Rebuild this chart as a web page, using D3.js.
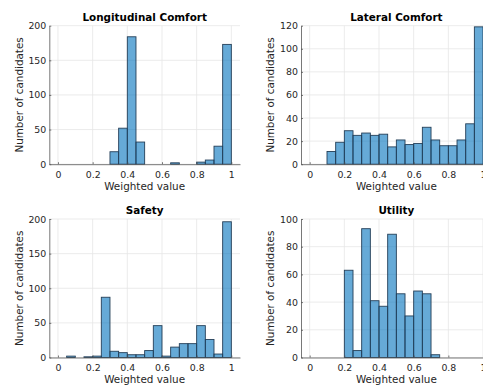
<!DOCTYPE html>
<html>
<head>
<meta charset="utf-8">
<script src="https://cdn.jsdelivr.net/npm/d3@7"></script>
<style>
  body { margin: 0; background: #fff; }
  svg { display: block; font-family: "DejaVu Sans", sans-serif; }
</style>
</head>
<body>
<svg></svg>
<script>
// bin edges (width 0.05) and counts
const binWidth = 0.05
const xTicks = [0, 0.2, 0.4, 0.6, 0.8, 1]

const longStart = 0
const longCounts = [0, 0, 0, 0, 0, 0, 18, 52, 184, 32, 0, 0, 0, 2, 0, 0, 3, 6, 26, 173]
const longTicks = [0, 50, 100, 150, 200]

const latStart = 0
const latCounts = [0, 0, 11, 19, 29, 25, 27, 25, 26, 15, 21, 17, 18, 32, 21, 16, 16, 21, 35, 119]
const latTicks = [0, 20, 40, 60, 80, 100, 120]

const safeStart = 0
const safeCounts = [0, 2, 0, 1, 2, 87, 9, 7, 4, 4, 10, 46, 2, 15, 20, 20, 46, 26, 5, 196]
const safeTicks = [0, 50, 100, 150, 200]

const utilStart = 0
const utilCounts = [0, 0, 0, 0, 63, 5, 93, 41, 37, 89, 46, 30, 48, 46, 2, 0, 0, 0, 0, 0]
const utilTicks = [0, 20, 40, 60, 80, 100]

const width = 483, height = 388
const svg = d3.select("svg").attr("width", width).attr("height", height)

const panels = [
  {title: "Longitudinal Comfort", start: longStart, counts: longCounts, yTicks: longTicks, x: 49.3, y: 25.7},
  {title: "Lateral Comfort", start: latStart, counts: latCounts, yTicks: latTicks, x: 301, y: 25.7},
  {title: "Safety", start: safeStart, counts: safeCounts, yTicks: safeTicks, x: 49.3, y: 219},
  {title: "Utility", start: utilStart, counts: utilCounts, yTicks: utilTicks, x: 301, y: 219}
]

const innerW = 190.7, innerH = 138.5

panels.forEach(p => {
  const g = svg.append("g").attr("transform", `translate(${p.x},${p.y})`)

  const xScale = d3.scaleLinear().domain([-0.05, 1.05]).range([0, innerW])
  const yScale = d3.scaleLinear().domain([0, d3.max(p.yTicks)]).range([innerH, 0])

  // grid
  g.append("g").selectAll("line").data(xTicks).enter().append("line")
    .attr("x1", d => xScale(d)).attr("x2", d => xScale(d))
    .attr("y1", 0).attr("y2", innerH)
    .attr("stroke", "#e6e6e6").attr("stroke-width", 0.8)
  g.append("g").selectAll("line").data(p.yTicks).enter().append("line")
    .attr("x1", 0).attr("x2", innerW)
    .attr("y1", d => yScale(d)).attr("y2", d => yScale(d))
    .attr("stroke", "#e6e6e6").attr("stroke-width", 0.8)

  // bars
  const bins = p.counts.map((c, i) => ({x0: p.start + i * binWidth, x1: p.start + (i + 1) * binWidth, n: c}))
  g.append("g").selectAll("rect").data(bins).enter().append("rect")
    .attr("x", d => xScale(d.x0))
    .attr("y", d => yScale(d.n))
    .attr("width", d => xScale(d.x1) - xScale(d.x0))
    .attr("height", d => innerH - yScale(d.n))
    .attr("fill", "#0072BD").attr("fill-opacity", 0.6)
    .attr("stroke", "#243f58").attr("stroke-width", 0.9)

  const xAxis = d3.axisBottom(xScale).tickValues(xTicks).tickFormat(d3.format("~g"))
    .tickSizeInner(-2).tickSizeOuter(0).tickPadding(6.7)
  const yAxis = d3.axisLeft(yScale).tickValues(p.yTicks)
    .tickSizeInner(-2).tickSizeOuter(0).tickPadding(3)

  const xg = g.append("g").attr("transform", `translate(0,${innerH})`).call(xAxis)
  const yg = g.append("g").call(yAxis)
  ;[xg, yg].forEach(a => {
    a.select(".domain").attr("stroke", "#555").attr("stroke-width", 0.8)
    a.selectAll(".tick line").attr("stroke", "#555").attr("stroke-width", 0.8)
    a.selectAll("text").attr("fill", "#262626").style("font-size", "9.4px")
      .style("font-family", "DejaVu Sans")
  })

  g.append("text")
    .attr("x", innerW / 2).attr("y", -5.2)
    .attr("text-anchor", "middle")
    .style("font-size", "10.4px").style("font-weight", "bold")
    .text(p.title)

  g.append("text")
    .attr("x", xScale(0.5)).attr("y", innerH + 25.8)
    .attr("text-anchor", "middle")
    .attr("fill", "#262626")
    .style("font-size", "10.4px")
    .text("Weighted value")

  g.append("text")
    .attr("transform", `translate(-26.7,${innerH / 2}) rotate(-90)`)
    .attr("text-anchor", "middle")
    .attr("fill", "#262626")
    .style("font-size", "10.4px")
    .text("Number of candidates")
})
</script>
</body>
</html>
